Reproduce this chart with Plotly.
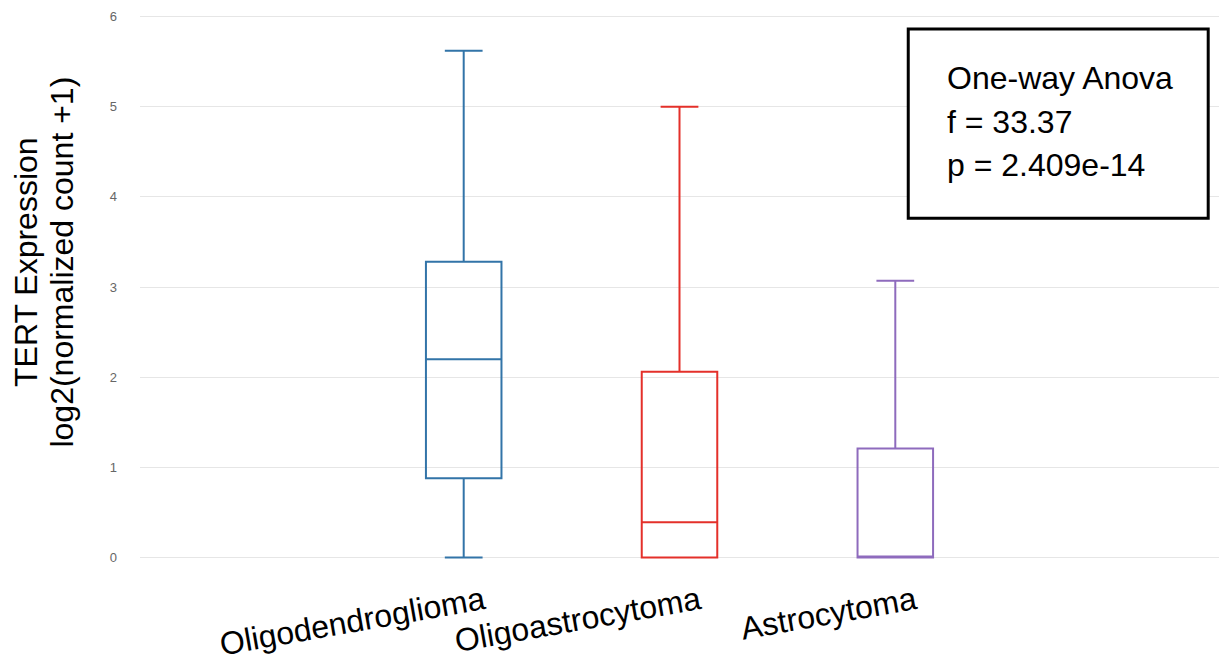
import plotly.graph_objects as go

categories = ["Oligodendroglioma", "Oligoastrocytoma", "Astrocytoma"]
positions = [1, 2, 3]
lower_fence = [0.0, 0.0, 0.0]
q1 = [0.88, 0.0, 0.0]
median = [2.2, 0.39, 0.0]
q3 = [3.28, 2.06, 1.21]
upper_fence = [5.62, 5.0, 3.07]
colors = ["#3274a8", "#e4302a", "#8e6bbd"]
y_ticks = [0, 1, 2, 3, 4, 5, 6]
y_title_lines = ["TERT Expression", "log2(normalized count +1)"]
stats_lines = ["One-way Anova", "f = 33.37", "p = 2.409e-14"]

FONT = "Arial, Liberation Sans, sans-serif"

fig = go.Figure()
for i, name in enumerate(categories):
    fig.add_trace(go.Box(
        x=[positions[i]], name=name,
        q1=[q1[i]], median=[median[i]], q3=[q3[i]],
        lowerfence=[lower_fence[i]], upperfence=[upper_fence[i]],
        line=dict(color=colors[i], width=2),
        fillcolor="rgba(255,255,255,0)",
        width=0.35, whiskerwidth=0.5, showlegend=False,
        boxpoints=False,
    ))

# statistics box
fig.add_shape(type="rect", xref="paper", yref="paper",
              x0=0.712, x1=0.99, y0=0.625, y1=0.969,
              line=dict(color="black", width=3), fillcolor="white", layer="above")
for line, yp in zip(stats_lines, [0.88, 0.80, 0.722]):
    fig.add_annotation(xref="paper", yref="paper", x=0.746, y=yp,
                       text=line, showarrow=False,
                       xanchor="left", yanchor="middle", align="left",
                       font=dict(family=FONT, size=32, color="black"))

# y-axis title (two lines)
for line, xp in zip(y_title_lines, [-0.105, -0.072]):
    fig.add_annotation(xref="paper", yref="paper", x=xp, y=0.545,
                       text=line, showarrow=False, textangle=-90,
                       xanchor="center", yanchor="middle",
                       font=dict(family=FONT, size=32, color="black"))

fig.update_layout(
    width=1219, height=662,
    margin=dict(l=140, r=0, t=12, b=100),
    plot_bgcolor="white", paper_bgcolor="white",
    font=dict(family=FONT),
    xaxis=dict(range=[-0.5, 4.5], tickvals=positions, ticktext=categories,
               tickangle=-10, showgrid=False, zeroline=False, showline=False,
               ticklabelshift=20, ticklabelstandoff=14,
               tickfont=dict(family=FONT, size=32, color="black")),
    yaxis=dict(range=[-0.05, 6.05], tickvals=y_ticks,
               showgrid=True, gridcolor="#e6e6e6", gridwidth=1, zeroline=False,
               tickfont=dict(size=13, color="#666666"), ticklabelstandoff=22),
)

fig.write_html("out.html")
